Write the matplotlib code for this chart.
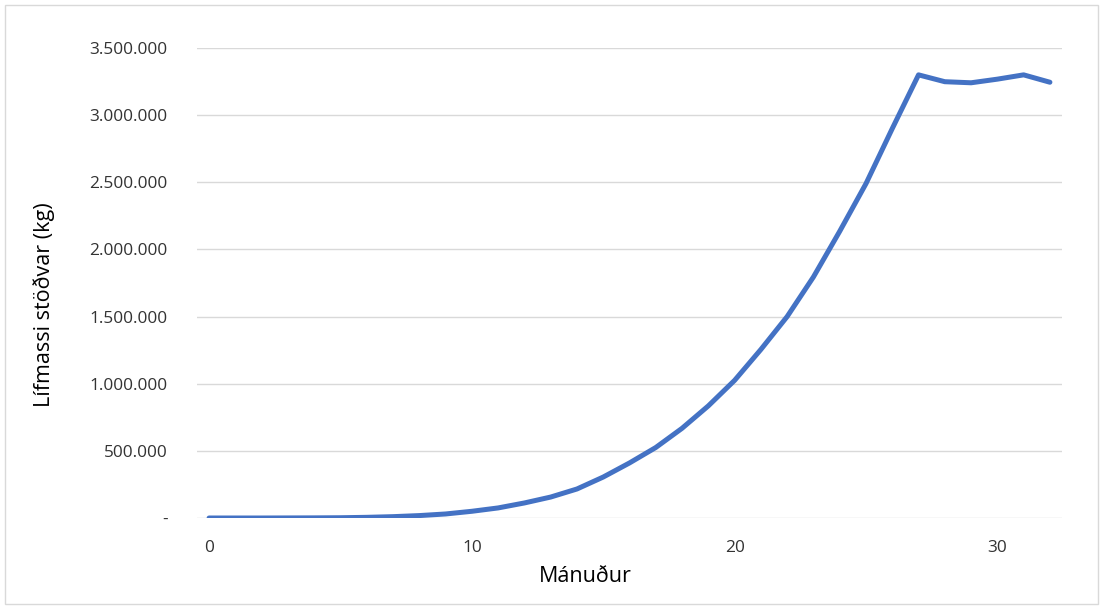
import matplotlib.pyplot as plt
from matplotlib.patches import Rectangle
from matplotlib.ticker import FuncFormatter

plt.rcParams['font.family'] = ['Open Sans', 'DejaVu Sans']

months = list(range(33))
biomass = [0, 0, 0, 500, 1000, 2000, 5000, 10000, 18000, 30000,
           50000, 75000, 112000, 156000, 216000, 305000, 410000, 525000,
           668000, 835000, 1025000, 1255000, 1500000, 1795000, 2135000,
           2490000, 2900000, 3300000, 3249000, 3241000, 3268000, 3300000,
           3245000]

x_ticks = [0, 10, 20, 30]
y_ticks = [0, 500000, 1000000, 1500000, 2000000, 2500000, 3000000, 3500000]


def fmt(v, pos):
    if v == 0:
        return "-"
    return f"{int(v):,}".replace(",", ".")


W, H = 1104, 609
fig = plt.figure(figsize=(W / 100, H / 100), dpi=100)
ax = fig.add_axes([197 / W, 1 - 518 / H, (1062 - 197) / W, (518 - 48) / H])

ax.plot(months, biomass, color='#4472C4', linewidth=3.6, solid_capstyle='round')

ax.set_xlim(-0.46, 32.46)
ax.set_ylim(0, 3500000)
ax.set_xticks(x_ticks)
ax.set_yticks(y_ticks)
ax.yaxis.set_major_formatter(FuncFormatter(fmt))
ax.tick_params(length=0, labelsize=12.4, colors='#333333')
ax.tick_params(axis='y', pad=21)
ax.tick_params(axis='x', pad=16)
ax.grid(axis='y', color='#D9D9D9', linewidth=1)
ax.set_axisbelow(True)
for s in ax.spines.values():
    s.set_visible(False)

fig.text(585 / W, 1 - 577 / H, 'Mánuður', fontsize=15.5, color='#000000',
         ha='center', va='center')
fig.text(44 / W, 1 - 305 / H, 'Lífmassi stöðvar (kg)', fontsize=15.5,
         color='#000000', ha='center', va='center', rotation=90)

fig.patches.append(Rectangle((5 / W, 5 / H), 1093 / W, 599 / H,
                             transform=fig.transFigure, fill=False,
                             edgecolor='#D9D9D9', linewidth=1))

fig.savefig('out.png', dpi=100)
